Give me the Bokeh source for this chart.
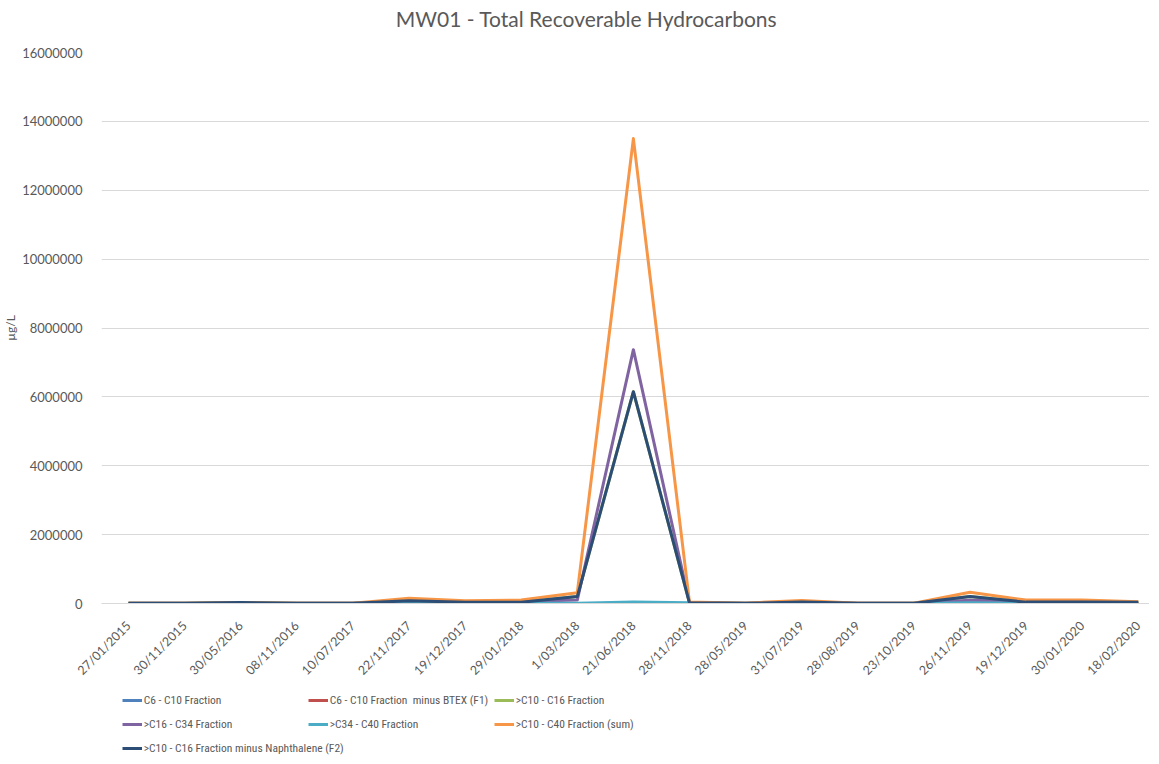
import math
from bokeh.plotting import figure
from bokeh.layouts import column
from bokeh.models import (Range1d, FixedTicker, SingleIntervalTicker, NumeralTickFormatter,
                          Legend, LegendItem, Label)
from bokeh.embed import file_html
from bokeh.resources import INLINE

dates = ["27/01/2015", "30/11/2015", "30/05/2016", "08/11/2016", "10/07/2017",
         "22/11/2017", "19/12/2017", "29/01/2018", "1/03/2018", "21/06/2018",
         "28/11/2018", "28/05/2019", "31/07/2019", "28/08/2019", "23/10/2019",
         "26/11/2019", "19/12/2019", "30/01/2020", "18/02/2020"]

c6_c10 = [500, 500, 800, 500, 500, 1000, 600, 700, 1500, 3000, 600, 500, 700, 500, 500, 1500, 700, 700, 600]
c6_c10_f1 = [400, 400, 600, 400, 400, 800, 500, 600, 1200, 2500, 500, 400, 600, 400, 400, 1200, 600, 600, 500]
c10_c16 = [5000, 5000, 30000, 5000, 5000, 80000, 35000, 35000, 200000, 6150000, 20000, 5000, 40000, 5000, 5000, 200000, 40000, 40000, 35000]
c16_c34 = [5000, 5000, 5000, 5000, 5000, 60000, 40000, 60000, 100000, 7370000, 15000, 5000, 40000, 5000, 5000, 95000, 55000, 55000, 15000]
c34_c40 = [0, 0, 0, 0, 0, 5000, 5000, 5000, 10000, 40000, 20000, 0, 5000, 0, 0, 20000, 5000, 5000, 0]
c10_c40 = [10000, 10000, 30000, 10000, 10000, 150000, 80000, 100000, 315000, 13500000, 40000, 10000, 90000, 10000, 10000, 325000, 100000, 100000, 50000]
c10_c16_f2 = [5000, 5000, 30000, 5000, 5000, 80000, 35000, 35000, 200000, 6150000, 20000, 5000, 40000, 5000, 5000, 200000, 40000, 40000, 35000]

series = [
    ("C6 - C10 Fraction", c6_c10, "#4F81BD"),
    ("C6 - C10 Fraction  minus BTEX (F1)", c6_c10_f1, "#C0504D"),
    (">C10 - C16 Fraction", c10_c16, "#9BBB59"),
    (">C16 - C34 Fraction", c16_c34, "#8064A2"),
    (">C34 - C40 Fraction", c34_c40, "#4BACC6"),
    (">C10 - C40 Fraction (sum)", c10_c40, "#F79646"),
    (">C10 - C16 Fraction minus Naphthalene (F2)", c10_c16_f2, "#2C4D75"),
]
title_text = "MW01 - Total Recoverable Hydrocarbons"
y_label = "µg/L"

FONT = "Lato"
LEGEND_FONT = "Roboto Condensed"
GREY = "#595959"
W = 1143
LEFT = 95
FRAME_W = W - LEFT

xs = list(range(len(dates)))

# ---- title strip ----
t = figure(width=W, height=45, output_backend="svg", toolbar_location=None,
           x_axis_type=None, y_axis_type=None, min_border=0)
t.outline_line_color = None
t.grid.visible = False
t.add_layout(Label(x=485, y=27, x_units="screen", y_units="screen", text=title_text,
                   text_font=FONT, text_font_size="21px", text_color=GREY,
                   text_align="center", text_baseline="middle"))

# ---- main chart ----
p = figure(frame_width=FRAME_W, frame_height=551,
           x_range=Range1d(-0.481, 18.2), y_range=Range1d(0, 16000000),
           output_backend="svg", toolbar_location=None)
p.min_border_left = LEFT
p.min_border_right = 0
p.min_border_top = 7
p.min_border_bottom = 80
p.outline_line_color = None

p.yaxis.ticker = SingleIntervalTicker(interval=2000000)
p.yaxis.formatter = NumeralTickFormatter(format="0")
p.yaxis.axis_line_color = None
p.yaxis.major_tick_line_color = None
p.yaxis.minor_tick_line_color = None
p.yaxis.major_label_text_font = FONT
p.yaxis.major_label_text_font_size = "13px"
p.yaxis.major_label_text_color = GREY
p.yaxis.major_label_standoff = 13
p.yaxis.axis_label = y_label
p.yaxis.axis_label_standoff = 1
p.yaxis.axis_label_text_font = FONT
p.yaxis.axis_label_text_font_size = "12px"
p.yaxis.axis_label_text_font_style = "normal"
p.yaxis.axis_label_text_color = GREY

p.xaxis.ticker = FixedTicker(ticks=xs)
p.xaxis.major_label_overrides = {i: d for i, d in zip(xs, dates)}
p.xaxis.axis_line_color = "#D9D9D9"
p.xaxis.major_tick_line_color = None
p.xaxis.minor_tick_line_color = None
p.xaxis.major_label_orientation = math.pi / 4
p.xaxis.major_label_text_font = FONT
p.xaxis.major_label_text_font_size = "12.5px"
p.xaxis.major_label_text_color = GREY
p.xaxis.major_label_standoff = 14

p.xgrid.grid_line_color = None
p.ygrid.grid_line_color = "#D9D9D9"

for name, vals, col in series:
    p.line(xs, vals, line_color=col, line_width=3, line_join="round")

# ---- legend strip (series drawn out of view, only their legend glyphs show) ----
lf = figure(frame_width=FRAME_W, frame_height=72, output_backend="svg", toolbar_location=None,
            x_axis_type=None, y_axis_type=None,
            x_range=Range1d(-0.481, 18.2), y_range=Range1d(-3, -2))
lf.min_border_left = LEFT
lf.min_border_right = 0
lf.min_border_top = 0
lf.min_border_bottom = 0
lf.outline_line_color = None
lf.grid.visible = False

items = []
for name, vals, col in series:
    r = lf.line(xs, vals, line_color=col, line_width=3)
    items.append(LegendItem(label=name, renderers=[r]))

columns = [([0, 3, 6], 90, 0), ([1, 4], 276, 24), ([2, 5], 462, 24)]
for idx, lx, ly in columns:
    lg = Legend(items=[items[i] for i in idx], location=(lx, ly), orientation="vertical")
    lg.label_text_font = LEGEND_FONT
    lg.label_text_font_size = "11.5px"
    lg.label_text_color = GREY
    lg.glyph_width = 20
    lg.glyph_height = 20
    lg.label_standoff = 2
    lg.spacing = 4
    lg.padding = 0
    lg.margin = 0
    lg.border_line_color = None
    lg.background_fill_alpha = 0
    lf.add_layout(lg, "center")

layout = column(t, p, lf, spacing=0)
open("out.html", "w").write(file_html(layout, INLINE))
